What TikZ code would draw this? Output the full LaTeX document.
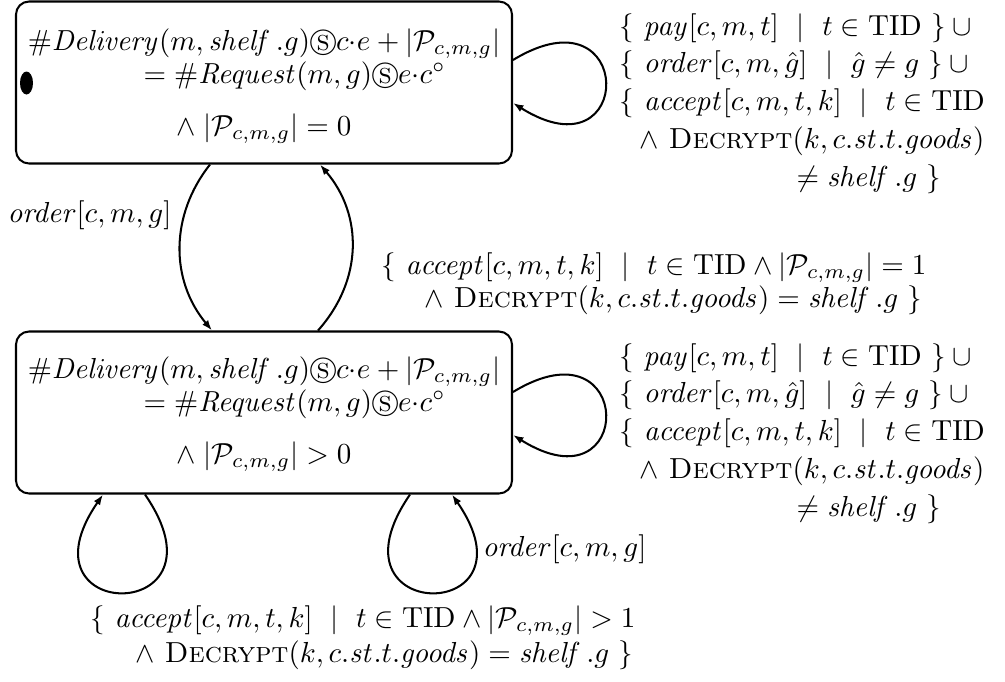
\documentclass[tikz,border=0pt]{standalone}
\usepackage{amsmath,amssymb}
\usetikzlibrary{arrows.meta,calc,shapes.geometric}
\newcommand\Pcmg{\mathcal{P}_{c,m,g}}
\newcommand\shelfg{\mathit{shelf}\,.g}
\newcommand\cupsp{\mskip\medmuskip\cup}
\begin{document}
\begin{tikzpicture}[x=0.345pt,y=-0.345pt,
  state/.style={draw,line width=0.7pt,rounded corners=4.5pt,minimum width=496*0.345pt,minimum height=162*0.345pt,inner sep=0pt},
  txt/.style={inner sep=0pt},
  arr/.style={line width=0.7pt,-{Latex[length=3.6pt,width=2.6pt]}}]
\useasboundingbox (0,0) rectangle (1005,681);
% states
\node[state] (T) at (264,82.5) {};
\node[state] (B) at (264,412.5) {};
\node[fill,ellipse,minimum width=13*0.345pt,minimum height=23*0.345pt,inner sep=0pt] (init) at (26.5,83) {};
% top state text
\node[txt,anchor=base] (t1) at (264,50) {$\#\mathit{Delivery}(m,\shelfg)\circledS c{\cdot}e+|\Pcmg|$};
\node[txt,anchor=base west] (t2) at (143,83) {$=\#\mathit{Request}(m,g)\circledS e{\cdot}c^{\circ}$};
\node[txt,anchor=base] (t3) at (264,135) {$\wedge\;|\Pcmg|=0$};
% bottom state text
\node[txt,anchor=base] (b1) at (264,378) {$\#\mathit{Delivery}(m,\shelfg)\circledS c{\cdot}e+|\Pcmg|$};
\node[txt,anchor=base west] (b2) at (143,411) {$=\#\mathit{Request}(m,g)\circledS e{\cdot}c^{\circ}$};
\node[txt,anchor=base] (b3) at (264,463) {$\wedge\;|\Pcmg|>0$};
% edges between states
\draw[arr] ($(T.south)+(-54,0)$) .. controls (170,215) and (170,280) .. ($(B.north)+(-52,0)$);
\draw[arr] ($(B.north)+(54,0)$) .. controls (363,280) and (363,215) .. ($(T.south)+(56,0)$);
\node[txt,anchor=base east] (lo) at (172,222) {$\mathit{order}[c,m,g]$};
\node[txt,anchor=base east] (la1) at (927,274) {$\{\ \mathit{accept}[c,m,t,k]\ \mid\ t\in\mathrm{TID}\wedge|\Pcmg|=1$};
\node[txt,anchor=base east] (la2) at (923,307) {$\wedge\ \textsc{Decrypt}(k,c.\mathit{st}.t.\mathit{goods})=\shelfg\ \}$};
% top self loop
\draw[arr] ($(T.east)+(0,-22.5)$) .. controls (636,-15) and (636,180) .. ($(T.east)+(0,20.5)$);
\node[txt,anchor=base west] (tr1) at (619,35) {$\{\ \mathit{pay}[c,m,t]\ \mid\ t\in\mathrm{TID}\ \}\cupsp$};
\node[txt,anchor=base west] (tr2) at (619,72) {$\{\ \mathit{order}[c,m,\hat g]\ \mid\ \hat g\neq g\ \}\cupsp$};
\node[txt,anchor=base west] (tr3) at (619,110) {$\{\ \mathit{accept}[c,m,t,k]\ \mid\ t\in\mathrm{TID}$};
\node[txt,anchor=base east] (tr4) at (985,148) {$\wedge\ \textsc{Decrypt}(k,c.\mathit{st}.t.\mathit{goods})$};
\node[txt,anchor=base east] (tr5) at (942,186) {$\neq\shelfg\ \}$};
% bottom right self loop
\draw[arr] ($(B.east)+(0,-20.5)$) .. controls (636,317) and (636,512) .. ($(B.east)+(0,22.5)$);
\node[txt,anchor=base west] (br1) at (619,365) {$\{\ \mathit{pay}[c,m,t]\ \mid\ t\in\mathrm{TID}\ \}\cupsp$};
\node[txt,anchor=base west] (br2) at (619,402) {$\{\ \mathit{order}[c,m,\hat g]\ \mid\ \hat g\neq g\ \}\cupsp$};
\node[txt,anchor=base west] (br3) at (619,440) {$\{\ \mathit{accept}[c,m,t,k]\ \mid\ t\in\mathrm{TID}$};
\node[txt,anchor=base east] (br4) at (985,478) {$\wedge\ \textsc{Decrypt}(k,c.\mathit{st}.t.\mathit{goods})$};
\node[txt,anchor=base east] (br5) at (942,516) {$\neq\shelfg\ \}$};
% bottom self loops
\draw[arr] ($(B.south)+(-119,0)$) .. controls (235,625) and (13,625) .. ($(B.south)+(-161,0)$);
\draw[arr] ($(B.south)+(146,0)$) .. controls (320,625) and (542,625) .. ($(B.south)+(188,0)$);
\node[txt,anchor=base west] (lo2) at (482,556) {$\mathit{order}[c,m,g]$};
\node[txt,anchor=base east] (lb1) at (636,627) {$\{\ \mathit{accept}[c,m,t,k]\ \mid\ t\in\mathrm{TID}\wedge|\Pcmg|>1$};
\node[txt,anchor=base east] (lb2) at (634,662) {$\wedge\ \textsc{Decrypt}(k,c.\mathit{st}.t.\mathit{goods})=\shelfg\ \}$};
\end{tikzpicture}
\end{document}
